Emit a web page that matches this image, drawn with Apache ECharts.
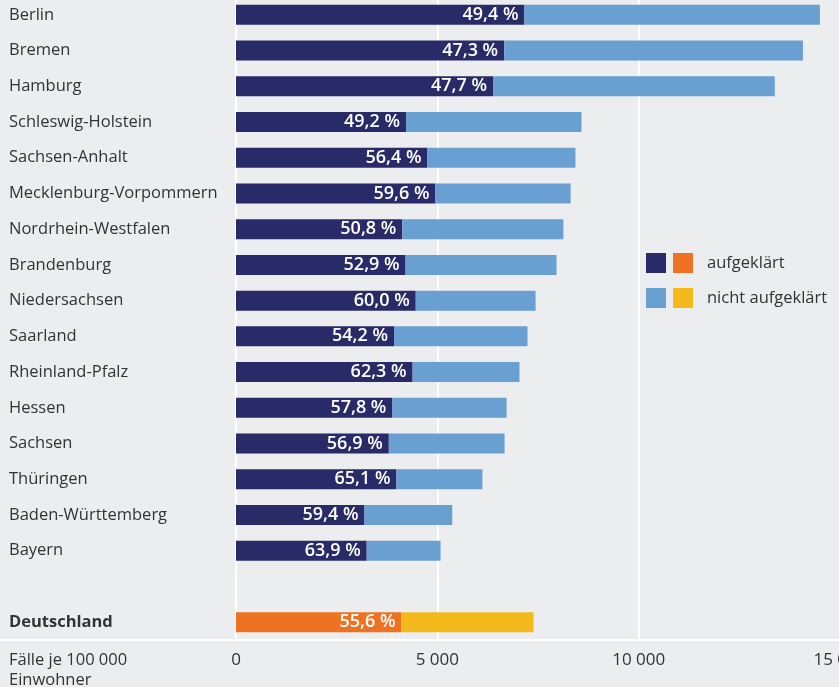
<!DOCTYPE html>
<html>
<head>
<meta charset="utf-8">
<script src="https://cdn.jsdelivr.net/npm/echarts@6/dist/echarts.min.js"></script>
<style>
  html, body { margin: 0; padding: 0; background: #ecedef; }
  #chart { width: 839px; height: 687px; }
</style>
</head>
<body>
<div id="chart"></div>
<script>
var laender = ['Berlin', 'Bremen', 'Hamburg', 'Schleswig-Holstein', 'Sachsen-Anhalt',
    'Mecklenburg-Vorpommern', 'Nordrhein-Westfalen', 'Brandenburg', 'Niedersachsen',
    'Saarland', 'Rheinland-Pfalz', 'Hessen', 'Sachsen', 'Thüringen',
    'Baden-Württemberg', 'Bayern', '', 'Deutschland'];
// Fälle je 100 000 Einwohner (gesamt)
var faelle = [14500, 14080, 13380, 8580, 8430, 8310, 8130, 7960, 7440,
    7240, 7040, 6720, 6670, 6120, 5370, 5080, null, 7390];
// Aufklärungsquote in %
var quote = [49.4, 47.3, 47.7, 49.2, 56.4, 59.6, 50.8, 52.9, 60.0,
    54.2, 62.3, 57.8, 56.9, 65.1, 59.4, 63.9, null, 55.6];
var xTicks = [0, 5000, 10000, 15000];

var font = '"Open Sans", "Noto Sans", sans-serif';
var dIdx = laender.indexOf('Deutschland');

var aufLand = [], nichtLand = [], aufD = [], nichtD = [];
for (var i = 0; i < laender.length; i++) {
    var auf = faelle[i] == null ? '-' : faelle[i] * quote[i] / 100;
    var nicht = faelle[i] == null ? '-' : faelle[i] - auf;
    if (i == dIdx) {
        aufLand.push('-'); nichtLand.push('-');
        aufD.push(auf); nichtD.push(nicht);
    } else {
        aufLand.push(auf); nichtLand.push(nicht);
        aufD.push('-'); nichtD.push('-');
    }
}

function pctLabel(p) {
    return quote[p.dataIndex].toFixed(1).replace('.', ',') + ' %';
}

var barLabel = {
    show: true,
    position: 'insideRight',
    distance: 6,
    color: '#fff',
    fontFamily: font,
    fontSize: 18,
    fontWeight: 600,
    formatter: pctLabel
};

var chart = echarts.init(document.getElementById('chart'));
chart.setOption({
    backgroundColor: '#ecedef',
    animation: false,
    grid: { left: 236, top: -3, width: 604, height: 643, outerBoundsMode: 'none', containLabel: false },
    xAxis: {
        type: 'value',
        min: xTicks[0],
        max: xTicks[xTicks.length - 1],
        interval: 5000,
        axisLine: { show: false },
        axisTick: { show: false },
        splitLine: { lineStyle: { color: '#fff', width: 2 } },
        axisLabel: {
            margin: 12,
            color: '#333',
            fontFamily: font,
            fontSize: 17,
            hideOverlap: false,
            formatter: function (v) {
                return String(v).replace(/\B(?=(\d{3})+(?!\d))/g, ' ');
            }
        }
    },
    yAxis: {
        type: 'category',
        data: laender,
        inverse: true,
        axisLine: { show: false },
        axisTick: { show: false },
        axisLabel: {
            align: 'left',
            margin: 227,
            color: '#333',
            fontFamily: font,
            fontSize: 16.5,
            formatter: function (v) {
                return v == 'Deutschland' ? '{b|' + v + '}' : v;
            },
            rich: { b: { fontWeight: 'bold', fontFamily: font, fontSize: 16.5, color: '#333' } }
        }
    },
    legend: [{
        left: 641, top: 248, orient: 'vertical',
        itemWidth: 20, itemHeight: 20, itemGap: 15,
        icon: 'rect', selectedMode: false,
        data: ['aufgeklärt', 'nicht aufgeklärt'],
        formatter: function () { return ''; }
    }, {
        left: 668, top: 248, orient: 'vertical',
        itemWidth: 20, itemHeight: 20, itemGap: 15,
        icon: 'rect', selectedMode: false,
        data: ['aufgeklärt (D)', 'nicht aufgeklärt (D)'],
        formatter: function (n) { return n.replace(' (D)', ''); },
        textStyle: { color: '#333', fontFamily: font, fontSize: 16.5, padding: [0, 0, 0, 9] }
    }],
    graphic: [{
        type: 'rect',
        shape: { x: 0, y: 639, width: 839, height: 2 },
        style: { fill: '#fff' }
    }, {
        type: 'text',
        left: 9, top: 650,
        style: {
            text: 'Fälle je 100 000\nEinwohner',
            fill: '#333', font: '16.5px ' + font, lineHeight: 20
        }
    }],
    series: [{
        name: 'aufgeklärt', type: 'bar', stack: 'a', barWidth: 20,
        itemStyle: { color: '#282b68' }, label: barLabel, data: aufLand
    }, {
        name: 'nicht aufgeklärt', type: 'bar', stack: 'a', barWidth: 20,
        itemStyle: { color: '#6a9fd2' }, data: nichtLand
    }, {
        name: 'aufgeklärt (D)', type: 'bar', stack: 'a', barWidth: 20,
        itemStyle: { color: '#ef7122' }, label: barLabel, data: aufD
    }, {
        name: 'nicht aufgeklärt (D)', type: 'bar', stack: 'a', barWidth: 20,
        itemStyle: { color: '#f4ba1c' }, data: nichtD
    }]
});
</script>
</body>
</html>
